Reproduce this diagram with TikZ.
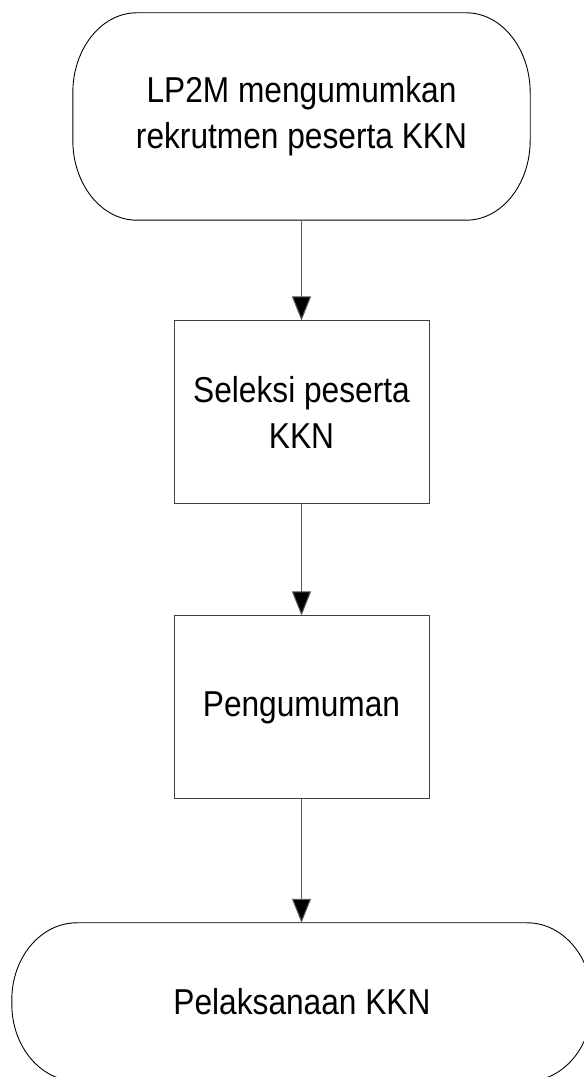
\documentclass[tikz,border=0pt]{standalone}
\usepackage{fontspec}
\setmainfont{Liberation Sans}[FakeStretch=0.88]
\usetikzlibrary{arrows.meta}
\newcommand\termoutline[3]{% node, width-radius, height-radius
  \draw[termline] ([xshift=#2]#1.north west) -- ([xshift=-#2]#1.north east)
    arc[start angle=90,end angle=0,x radius=#2,y radius=#3]
    -- ([yshift=#3]#1.south east)
    arc[start angle=0,end angle=-90,x radius=#2,y radius=#3]
    -- ([xshift=#2]#1.south west)
    arc[start angle=270,end angle=180,x radius=#2,y radius=#3]
    -- ([yshift=-#3]#1.north west)
    arc[start angle=180,end angle=90,x radius=#2,y radius=#3]
    -- cycle;}
\begin{document}
\begin{tikzpicture}[x=1pt,y=1pt,
  txt/.style={font=\fontsize{36}{46}\selectfont, align=center, inner sep=0pt},
  term/.style={txt, minimum width=#1, shape=rectangle},
  procbox/.style={txt, draw=black!75, line width=1pt, minimum width=255pt, minimum height=183pt},
  termline/.style={draw=black, line width=0.9pt},
  flow/.style={draw=black!65, line width=1pt, -{Triangle[length=24pt,width=19pt,fill=black]}}]
\useasboundingbox (0,0) rectangle (584,1077);
\fill[white] (0,0) rectangle (584,1077);
\node[term=457pt, minimum height=207pt] (t1) at (301.5,960.5) {LP2M mengumumkan\\rekrutmen peserta KKN};
\termoutline{t1}{64pt}{80pt}
\node[procbox] (p1) at (301.5,664.5) {Seleksi peserta\\KKN};
\node[procbox] (p2) at (301.5,369.5) {Pengumuman};
\node[term=580pt, minimum height=158pt] (t2) at (302,75) {Pelaksanaan KKN};
\termoutline{t2}{65pt}{77pt}
\draw[flow] (t1.south -| p1.north) -- (p1.north);
\draw[flow] (p1.south) -- (p2.north);
\draw[flow] (p2.south) -- (p2.south |- t2.north);
\end{tikzpicture}
\end{document}
